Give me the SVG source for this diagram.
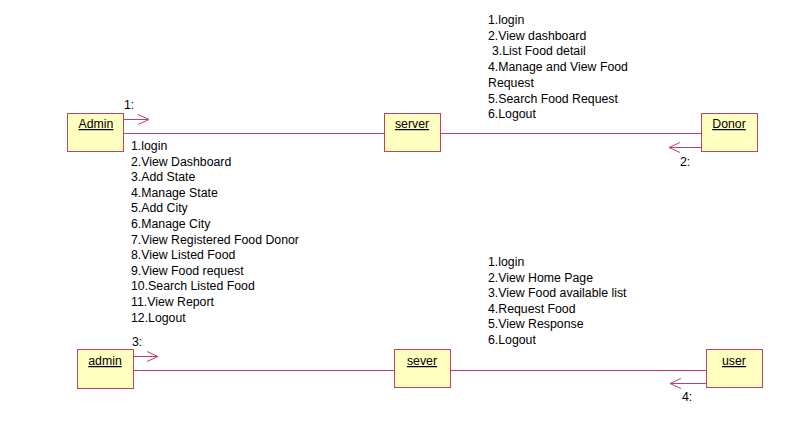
<svg xmlns="http://www.w3.org/2000/svg" width="789" height="426" viewBox="0 0 789 426">
<style>
.box{fill:#FFFFC0;stroke:#C0406A;stroke-width:1}
.ln{stroke:#C0406A;stroke-width:1;fill:none}
.lbl{font-family:"Liberation Sans",Arial,sans-serif;font-size:12.3px;fill:#000}
.nm{font-family:"Liberation Sans",Arial,sans-serif;font-size:12.3px;fill:#000;text-decoration:underline;text-anchor:middle}
</style>
<rect width="789" height="426" fill="#fff"/>
<g id="connectors">
<line class="ln" x1="124" y1="133.5" x2="384" y2="133.5"/>
<line class="ln" x1="441" y1="133.5" x2="701" y2="133.5"/>
<line class="ln" x1="133" y1="370.5" x2="394" y2="370.5"/>
<line class="ln" x1="451" y1="370.5" x2="706" y2="370.5"/>
<g id="msg1">
<line class="ln" x1="112" y1="119.5" x2="149" y2="119.5"/>
<polyline class="ln" points="138,114.5 149,119.5 138,124.5"/>
<text class="lbl" x="124" y="109">1:</text>
</g>
<g id="msg2">
<line class="ln" x1="708" y1="147.5" x2="669" y2="147.5"/>
<polyline class="ln" points="680,142.5 669,147.5 680,152.5"/>
<text class="lbl" x="680" y="166">2:</text>
</g>
<g id="msg3">
<line class="ln" x1="120" y1="356.5" x2="158" y2="356.5"/>
<polyline class="ln" points="147,351.5 158,356.5 147,361.5"/>
<text class="lbl" x="132" y="346">3:</text>
</g>
<g id="msg4">
<line class="ln" x1="708" y1="383.5" x2="670" y2="383.5"/>
<polyline class="ln" points="681,378.5 670,383.5 681,388.5"/>
<text class="lbl" x="682" y="401">4:</text>
</g>
</g>
<g id="node-Admin">
<rect class="box" x="67.5" y="113.5" width="56" height="38"/>
<text class="nm" x="96" y="128">Admin</text>
</g>
<g id="node-server">
<rect class="box" x="384.5" y="113.5" width="56" height="38"/>
<text class="nm" x="412" y="128">server</text>
</g>
<g id="node-Donor">
<rect class="box" x="701.5" y="113.5" width="56" height="38"/>
<text class="nm" x="729" y="128">Donor</text>
</g>
<g id="node-admin2">
<rect class="box" x="77.5" y="349.5" width="56" height="39"/>
<text class="nm" x="105" y="365">admin</text>
</g>
<g id="node-sever">
<rect class="box" x="394.5" y="349.5" width="56" height="38"/>
<text class="nm" x="422" y="365">sever</text>
</g>
<g id="node-user">
<rect class="box" x="706.5" y="349.5" width="56" height="38"/>
<text class="nm" x="734" y="365">user</text>
</g>
<g id="labels">
<text class="lbl" x="131" y="150">
<tspan x="131" dy="0">1.login</tspan>
<tspan x="131" dy="15.6">2.View Dashboard</tspan>
<tspan x="131" dy="15.6">3.Add State</tspan>
<tspan x="131" dy="15.6">4.Manage State</tspan>
<tspan x="131" dy="15.6">5.Add City</tspan>
<tspan x="131" dy="15.6">6.Manage City</tspan>
<tspan x="131" dy="15.6">7.View Registered Food Donor</tspan>
<tspan x="131" dy="15.6">8.View Listed Food</tspan>
<tspan x="131" dy="15.6">9.View Food request</tspan>
<tspan x="131" dy="15.6">10.Search Listed Food</tspan>
<tspan x="131" dy="15.6">11.View Report</tspan>
<tspan x="131" dy="15.6">12.Logout</tspan>
</text>
<text class="lbl" x="488" y="24">
<tspan x="488" dy="0">1.login</tspan>
<tspan x="488" dy="15.7">2.View dashboard</tspan>
<tspan x="492" dy="15.7">3.List Food detail</tspan>
<tspan x="488" dy="15.7">4.Manage and View Food</tspan>
<tspan x="488" dy="15.7">Request</tspan>
<tspan x="488" dy="15.7">5.Search Food Request</tspan>
<tspan x="488" dy="15.7">6.Logout</tspan>
</text>
<text class="lbl" x="488" y="266">
<tspan x="488" dy="0">1.login</tspan>
<tspan x="488" dy="15.6">2.View Home Page</tspan>
<tspan x="488" dy="15.6">3.View Food available list</tspan>
<tspan x="488" dy="15.6">4.Request Food</tspan>
<tspan x="488" dy="15.6">5.View Response</tspan>
<tspan x="488" dy="15.6">6.Logout</tspan>
</text>
</g>
</svg>
